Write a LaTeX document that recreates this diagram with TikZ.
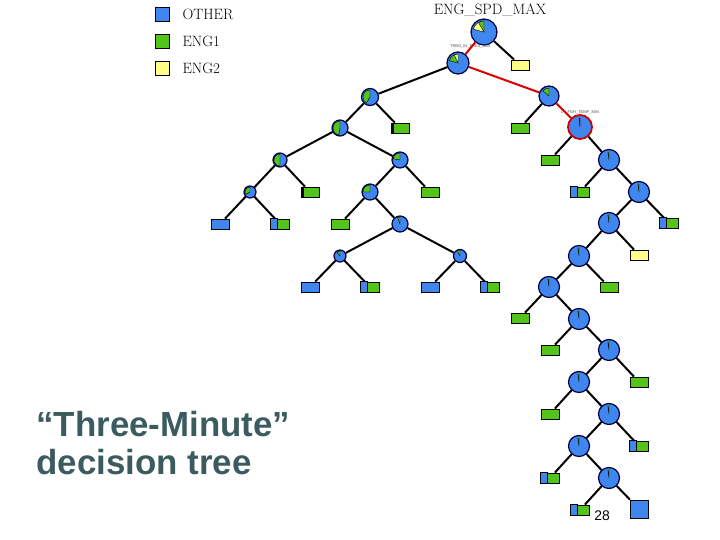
\documentclass[tikz,border=0pt]{standalone}
\usepackage{fontspec}
\setsansfont{Liberation Sans}
\begin{document}
\begin{tikzpicture}[x=1bp,y=-1bp,
  inner/.style={circle,draw=black!75!blue,line width=1.2bp,fill=nblue,inner sep=0pt},
  leaf/.style={rectangle,draw=black,line width=0.8bp,fill=#1,minimum width=18bp,minimum height=10bp,inner sep=0pt},
  edge/.style={line width=2bp,black},
  redge/.style={line width=2bp,red!85!black},
  lab/.style={font=\fontsize{4}{4}\selectfont\sffamily,text=black!70}]
\definecolor{nblue}{HTML}{3F86EE}
\definecolor{ngreen}{HTML}{52C41A}
\definecolor{nyellow}{HTML}{FFFF88}
\definecolor{ttl}{HTML}{3B5B5E}
\useasboundingbox (0,0) rectangle (720,540);
\newcommand\mywedge[4]{\fill[#4,draw=black,line width=0.4bp] (#1.center) -- ++(-90:#2) arc (-90:-90-#3:#2) -- cycle;}
\newcommand\mixleaf[1]{\fill[nblue,draw=black,line width=0.8bp] (#1.north west) rectangle ([xshift=7bp]#1.south west);}
% legend
\node[leaf=nblue,minimum width=14bp,minimum height=14bp] (k1) at (162,14) {};
\node[leaf=ngreen,minimum width=14bp,minimum height=14bp] (k2) at (162,41) {};
\node[leaf=nyellow,minimum width=14bp,minimum height=14bp] (k3) at (162,68) {};
\node[anchor=west,font=\fontsize{15}{15}\selectfont] (t1) at (179,14) {OTHER};
\node[anchor=west,font=\fontsize{15}{15}\selectfont] (t2) at (179,41) {ENG1};
\node[anchor=west,font=\fontsize{15}{15}\selectfont] (t3) at (179,68) {ENG2};
\node[font=\fontsize{15}{15}\selectfont] (ttop) at (490,10) {ENG\_SPD\_MAX};
% title
\node[anchor=west,align=left,font=\fontsize{35}{39}\selectfont\sffamily\bfseries,text=ttl] (title) at (33,443) {“Three-Minute”\\decision tree};
\node[font=\fontsize{14}{14}\selectfont\sffamily] (pg) at (602,516) {28};
% inner nodes
\node[inner,minimum size=26bp] (R) at (484,32) {};
\node[inner,minimum size=22bp] (T) at (458,63) {};
\node[inner,minimum size=17bp] (A) at (370,97) {};
\node[inner,minimum size=20bp] (B) at (549,96) {};
\node[inner,minimum size=24bp,draw=red!80!black,line width=1.8bp] (L) at (580,127) {};
\foreach \n/\x/\y in {C1/609/160,C2/639/192,C3/609/223,C4/579/256,C5/549/287,C6/579/319,C7/609/350,C8/579/382,C9/609/414,C10/579/446,C11/609/478}
  \node[inner,minimum size=21bp] (\n) at (\x,\y) {};
\node[inner,minimum size=16bp] (A1) at (340,128) {};
\node[inner,minimum size=14bp] (A2) at (280,160) {};
\node[inner,minimum size=16bp] (A3) at (400,160) {};
\node[inner,minimum size=12bp] (A4) at (250,192) {};
\node[inner,minimum size=16bp] (A5) at (370,192) {};
\node[inner,minimum size=16bp] (A6) at (400,224) {};
\node[inner,minimum size=12bp] (A7) at (340,256) {};
\node[inner,minimum size=13bp] (A8) at (460,256) {};
% wedges
\mywedge{R}{11}{75}{nyellow}\mywedge{R}{11}{30}{ngreen}
\mywedge{T}{9}{75}{ngreen}\mywedge{T}{9}{25}{nyellow}
\mywedge{A}{7}{150}{ngreen}\mywedge{A1}{7}{170}{ngreen}\mywedge{A2}{6}{180}{ngreen}
\mywedge{A3}{7}{80}{ngreen}\mywedge{A4}{5}{120}{ngreen}\mywedge{A5}{7}{90}{ngreen}
\mywedge{A6}{7}{20}{ngreen}\mywedge{A7}{5}{40}{ngreen}\mywedge{A8}{6}{30}{ngreen}
\mywedge{B}{8}{50}{ngreen}\mywedge{L}{9}{6}{red}
\foreach \n in {C1,C2,C3,C4,C5,C6,C7,C8,C9,C10,C11}{\mywedge{\n}{8}{8}{ngreen}}
\node[lab] (lt) at (470,47) {TRBO\_IN\_PRES\_MIN};
\node[lab] (ll) at (580,113) {LT\_FGH\_TEMP\_MIN};
% leaves
\node[leaf=nyellow] (lR) at (520,65) {};
\node[leaf=ngreen] (lB) at (520,128) {};
\node[leaf=ngreen] (lL) at (550,160) {};
\node[leaf=ngreen] (lC1) at (580,192) {};
\node[leaf=ngreen] (lC2) at (669,223) {};
\node[leaf=nyellow] (lC3) at (639,255) {};
\node[leaf=ngreen] (lC4) at (609,287) {};
\node[leaf=ngreen] (lC5) at (520,318) {};
\node[leaf=ngreen] (lC6) at (550,350) {};
\node[leaf=ngreen] (lC7) at (639,382) {};
\node[leaf=ngreen] (lC8) at (550,414) {};
\node[leaf=ngreen] (lC9) at (639,446) {};
\node[leaf=ngreen] (lC10) at (550,478) {};
\node[leaf=ngreen] (lC11a) at (580,510) {};
\node[leaf=nblue,minimum width=18bp,minimum height=18bp] (lC11b) at (639,509) {};
\node[leaf=ngreen] (lA) at (400,128) {};
\node[leaf=ngreen] (lA2) at (310,192) {};
\node[leaf=nblue] (lA4a) at (220,224) {};
\node[leaf=ngreen] (lA4b) at (280,224) {};
\node[leaf=ngreen] (lA3) at (430,192) {};
\node[leaf=ngreen] (lA5) at (340,224) {};
\node[leaf=nblue] (lA7a) at (310,287) {};
\node[leaf=ngreen] (lA7b) at (370,287) {};
\node[leaf=nblue] (lA8a) at (430,287) {};
\node[leaf=ngreen] (lA8b) at (490,287) {};
\foreach \n in {lC1,lC2,lC9,lC10,lC11a,lA4b,lA7b,lA8b}{\mixleaf{\n}}
\fill[black] (lA.north west) rectangle ([xshift=3bp]lA.south west);
\fill[black] (lA2.north west) rectangle ([xshift=3bp]lA2.south west);
% edges
\draw[redge] (R) -- (T);
\draw[redge] (T) -- (B);
\draw[redge] (B) -- (L);
\foreach \a/\b in {R/lR,T/A,B/lB,L/lL,L/C1,C1/lC1,C1/C2,C2/C3,C2/lC2,C3/C4,C3/lC3,C4/C5,C4/lC4,C5/lC5,C5/C6,C6/lC6,C6/C7,C7/C8,C7/lC7,C8/lC8,C8/C9,C9/C10,C9/lC9,C10/lC10,C10/C11,C11/lC11a,C11/lC11b,A/A1,A/lA,A1/A2,A1/A3,A2/A4,A2/lA2,A4/lA4a,A4/lA4b,A3/A5,A3/lA3,A5/lA5,A5/A6,A6/A7,A6/A8,A7/lA7a,A7/lA7b,A8/lA8a,A8/lA8b}
  \draw[edge] (\a) -- (\b);
\end{tikzpicture}
\end{document}
